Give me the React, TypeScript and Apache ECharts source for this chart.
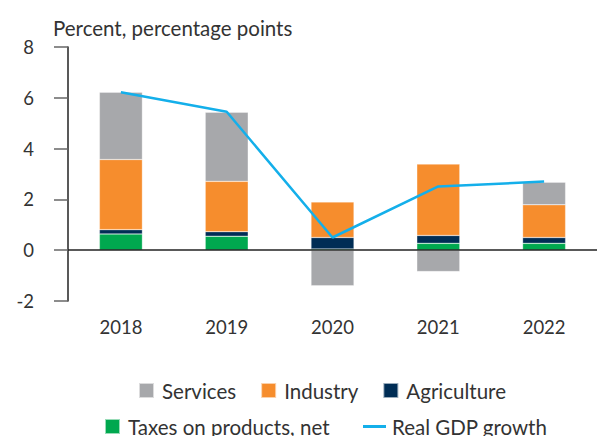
import React, { useEffect, useRef } from "react";
import * as echarts from "echarts";

const years = ["2018", "2019", "2020", "2021", "2022"];
const taxes = [0.64, 0.55, 0.05, 0.27, 0.27];
const agriculture = [0.17, 0.18, 0.45, 0.31, 0.23];
const industry = [2.76, 1.98, 1.4, 2.81, 1.29];
const services = [2.65, 2.72, -1.4, -0.84, 0.89];
const gdp = [6.22, 5.45, 0.5, 2.51, 2.7];
const yTicks = { min: -2, max: 8, interval: 2 };

const FONT = "Lato";
const C_SERV = "#A7A8AB";
const C_IND = "#F68D2D";
const C_AGR = "#002D55";
const C_TAX = "#00A84F";
const C_GDP = "#14AFEA";

export default function App() {
  const ref = useRef<HTMLDivElement>(null);
  useEffect(() => {
    const chart = echarts.init(ref.current!, null, { renderer: "svg" });
    const barCommon = {
      type: "bar",
      stack: "total",
      barWidth: 43,
      itemStyle: { borderColor: "rgba(255,255,255,0.6)", borderWidth: 0.5 },
    };
    const legendText = { fontSize: 20.5, color: "#333", fontFamily: FONT };
    chart.setOption({
      animation: false,
      textStyle: { fontFamily: FONT },
      title: {
        text: "Percent, percentage points",
        left: 48,
        top: 12,
        textStyle: { fontFamily: FONT, fontSize: 20.5, fontWeight: "normal", color: "#333" },
      },
      grid: { left: 68, top: 47, width: 532, height: 254 },
      xAxis: {
        type: "category",
        data: years,
        axisLine: { show: false, onZero: false },
        axisTick: { show: false },
        axisLabel: { fontSize: 18.5, color: "#333", margin: 16, fontFamily: FONT },
      },
      yAxis: {
        type: "value",
        min: yTicks.min,
        max: yTicks.max,
        interval: yTicks.interval,
        axisLine: { show: true, lineStyle: { color: "#222", width: 1.5 } },
        axisTick: { show: true, length: 14, lineStyle: { color: "#666", width: 1.5 } },
        splitLine: { show: false },
        axisLabel: { fontSize: 18.5, color: "#333", margin: 34, fontFamily: FONT },
      },
      legend: [
        {
          data: ["Services", "Industry", "Agriculture"],
          left: 138,
          top: 380,
          icon: "rect",
          itemWidth: 15,
          itemHeight: 15,
          itemGap: 24,
          textStyle: { ...legendText, padding: [0, 0, 0, 3] },
          padding: 0,
        },
        {
          data: ["Taxes on products, net"],
          left: 104,
          top: 416,
          icon: "rect",
          itemWidth: 15,
          itemHeight: 15,
          textStyle: { ...legendText, padding: [0, 0, 0, 3] },
          padding: 0,
        },
        {
          data: [{ name: "Real GDP growth", icon: "rect" }],
          left: 363,
          top: 416,
          itemWidth: 23,
          itemHeight: 3,
          itemStyle: { color: C_GDP },
          textStyle: { ...legendText, padding: [0, 0, 0, 1] },
          padding: 0,
        },
      ],
      series: [
        {
          ...barCommon,
          name: "Taxes on products, net",
          data: taxes,
          itemStyle: { ...barCommon.itemStyle, color: C_TAX },
          markLine: {
            silent: true,
            symbol: "none",
            label: { show: false },
            lineStyle: { color: "#222", width: 1.5, type: "solid" },
            data: [{ yAxis: 0 }],
          },
        },
        {
          ...barCommon,
          name: "Agriculture",
          data: agriculture,
          itemStyle: { ...barCommon.itemStyle, color: C_AGR },
        },
        {
          ...barCommon,
          name: "Industry",
          data: industry,
          itemStyle: { ...barCommon.itemStyle, color: C_IND },
        },
        {
          ...barCommon,
          name: "Services",
          data: services,
          itemStyle: { ...barCommon.itemStyle, color: C_SERV },
        },
        {
          type: "line",
          name: "Real GDP growth",
          data: gdp,
          symbol: "none",
          z: 5,
          lineStyle: { color: C_GDP, width: 2.5 },
          itemStyle: { color: C_GDP },
        },
      ],
    });
    return () => chart.dispose();
  }, []);
  return (
    <div
      ref={ref}
      style={{ position: "absolute", left: 0, top: 0, width: 597, height: 436 }}
    />
  );
}
